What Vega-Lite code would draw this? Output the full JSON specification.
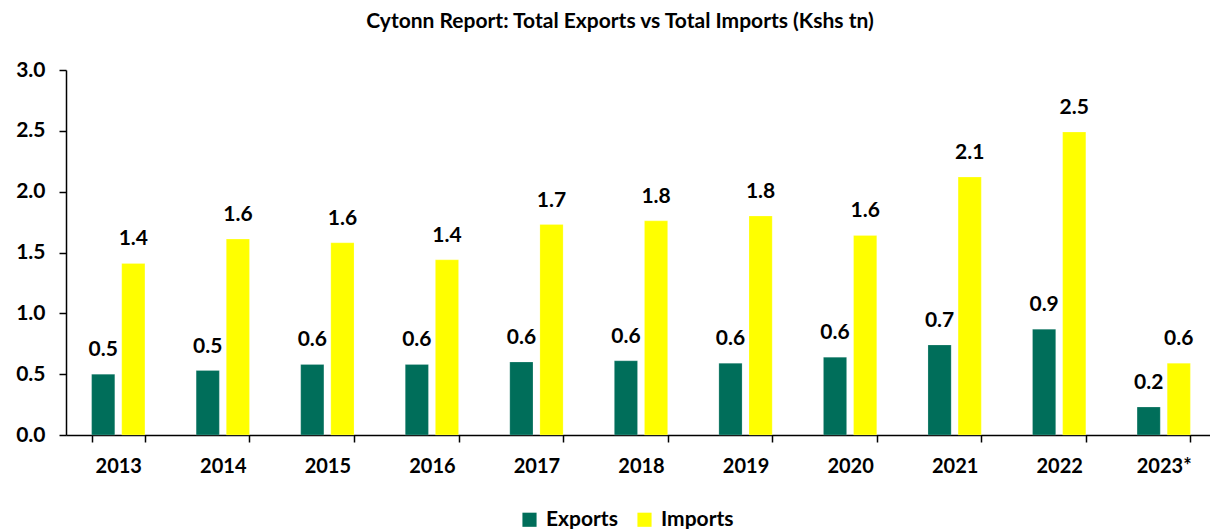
{
  "$schema": "https://vega.github.io/schema/vega-lite/v6.json",
  "autosize": {"type": "none"},
  "padding": {"left": 66, "top": 70, "right": 0, "bottom": 94},
  "width": 1150,
  "height": 365,
  "background": "white",
  "view": {"stroke": null},
  "title": {
    "text": "Cytonn Report: Total Exports vs Total Imports (Kshs tn)",
    "font": "Lato",
    "fontSize": 21,
    "fontWeight": "bold",
    "color": "black",
    "anchor": "middle",
    "dx": -21,
    "offset": 27
  },
  "data": {
    "values": [
      {"year": "2013", "series": "Exports", "value": 0.50},
      {"year": "2013", "series": "Imports", "value": 1.41},
      {"year": "2014", "series": "Exports", "value": 0.53},
      {"year": "2014", "series": "Imports", "value": 1.61},
      {"year": "2015", "series": "Exports", "value": 0.58},
      {"year": "2015", "series": "Imports", "value": 1.58},
      {"year": "2016", "series": "Exports", "value": 0.58},
      {"year": "2016", "series": "Imports", "value": 1.44},
      {"year": "2017", "series": "Exports", "value": 0.60},
      {"year": "2017", "series": "Imports", "value": 1.73},
      {"year": "2018", "series": "Exports", "value": 0.61},
      {"year": "2018", "series": "Imports", "value": 1.76},
      {"year": "2019", "series": "Exports", "value": 0.59},
      {"year": "2019", "series": "Imports", "value": 1.80},
      {"year": "2020", "series": "Exports", "value": 0.64},
      {"year": "2020", "series": "Imports", "value": 1.64},
      {"year": "2021", "series": "Exports", "value": 0.74},
      {"year": "2021", "series": "Imports", "value": 2.12},
      {"year": "2022", "series": "Exports", "value": 0.87},
      {"year": "2022", "series": "Imports", "value": 2.49},
      {"year": "2023*", "series": "Exports", "value": 0.23},
      {"year": "2023*", "series": "Imports", "value": 0.59}
    ]
  },
  "encoding": {
    "x": {
      "field": "year",
      "type": "nominal",
      "sort": null,
      "scale": {"paddingInner": 0.49, "paddingOuter": 0.245},
      "axis": {
        "title": null,
        "labelAngle": 0,
        "labelFont": "Lato",
        "labelFontSize": 20,
        "labelFontWeight": "bold",
        "labelColor": "black",
        "labelPadding": 14,
        "tickBand": "extent",
        "tickSize": 7,
        "tickColor": "black",
        "domainColor": "black",
        "domainWidth": 1.5,
        "tickWidth": 1.5
      }
    },
    "xOffset": {
      "field": "series",
      "type": "nominal",
      "scale": {"paddingInner": 0.23, "paddingOuter": 0}
    },
    "y": {
      "field": "value",
      "type": "quantitative",
      "scale": {"domain": [0, 3], "nice": false},
      "axis": {
        "title": null,
        "values": [0, 0.5, 1, 1.5, 2, 2.5, 3],
        "format": ".1f",
        "grid": false,
        "labelFont": "Lato",
        "labelFontSize": 21,
        "labelFontWeight": "bold",
        "labelColor": "black",
        "labelPadding": 14,
        "tickSize": 7,
        "tickColor": "black",
        "tickWidth": 1.5,
        "domainColor": "black",
        "domainWidth": 1.5
      }
    }
  },
  "layer": [
    {
      "mark": {"type": "bar", "stroke": "white", "strokeWidth": 0.5, "strokeOpacity": 0.4},
      "encoding": {
        "color": {
          "field": "series",
          "type": "nominal",
          "scale": {"domain": ["Exports", "Imports"], "range": ["#006E5A", "#FFFF00"]},
          "legend": {
            "title": null,
            "orient": "none",
            "legendX": 453,
            "legendY": 439,
            "direction": "horizontal",
            "symbolType": "square",
            "symbolSize": 200,
            "symbolStrokeWidth": 0,
            "labelFont": "Lato",
            "labelFontSize": 21,
            "labelFontWeight": "bold",
            "labelColor": "black",
            "labelOffset": 6,
            "columnPadding": 16
          }
        }
      }
    },
    {
      "mark": {"type": "text", "font": "Lato", "fontSize": 21, "fontWeight": "bold", "color": "black", "baseline": "bottom", "dy": -14},
      "encoding": {
        "text": {"field": "value", "type": "quantitative", "format": ".1f"}
      }
    }
  ]
}
